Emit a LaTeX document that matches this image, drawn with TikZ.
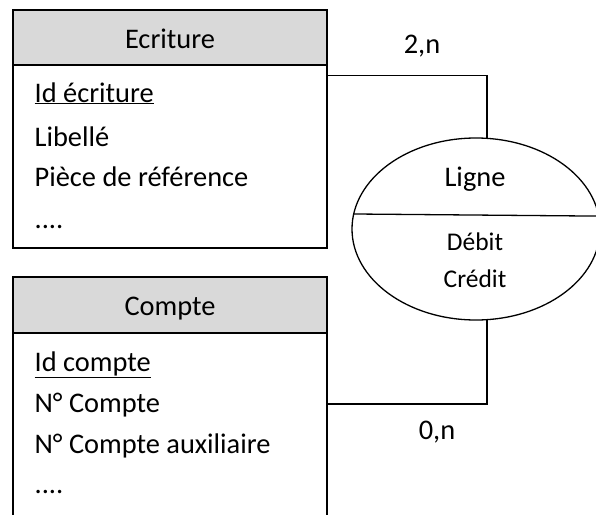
\documentclass[tikz,border=0pt]{standalone}
\usepackage{fontspec}
\setmainfont{Carlito}
\usetikzlibrary{shapes.geometric}
\definecolor{hdrgray}{HTML}{D9D9D9}
\begin{document}
\begin{tikzpicture}[x=1pt,y=-1pt,line width=1.3pt,
  boxpart/.style={draw,rectangle,inner sep=0,outer sep=0,minimum width=314pt},
  hdr/.style={boxpart,fill=hdrgray},
  attr/.style={inner sep=0,anchor=base west,font=\fontsize{28.4}{34}\selectfont},
  title/.style={inner sep=0,anchor=base,font=\fontsize{28.4}{34}\selectfont},
  small/.style={inner sep=0,anchor=base,font=\fontsize{25.5}{30}\selectfont},
  assoc/.style={draw,ellipse,inner sep=0,outer sep=0,minimum width=248pt,minimum height=182pt}]
\useasboundingbox (0,0) rectangle (596,514);
\clip (0,0) rectangle (596,514);
% Ecriture
\node[hdr,minimum height=55pt] (ecrh) at (170,37.5) {};
\node[boxpart,minimum height=183pt] (ecrb) at (170,156.5) {};
\node[title] (ecrt) at (170,48) {Ecriture};
\node[attr] (e1) at (34,102) {\underline{Id écriture}};
\node[attr] (e2) at (34,146) {Libellé};
\node[attr] (e3) at (34,186) {Pièce de référence};
\node[attr] (e4) at (34,228) {....};
% Compte
\node[hdr,minimum height=56pt] (cpth) at (170,305) {};
\node[boxpart,minimum height=207pt] (cptb) at (170,436.5) {};
\node[title] (cptt) at (170,315) {Compte};
\node[attr] (c1) at (34,371) {\underline{Id compte}};
\node[attr] (c2) at (34,412) {N° Compte};
\node[attr] (c3) at (34,453) {N° Compte auxiliaire};
\node[attr] (c4) at (34,493) {....};
% Ligne
\node[assoc] (lig) at (476,229) {};
\draw (lig.173.48) -- (lig.6.52);
\node[title] (ligt) at (475,186) {Ligne};
\node[small] (l1) at (475,250.5) {Débit};
\node[small] (l2) at (475,287) {Crédit};
% connectors
\draw (ecrb.east |- 0,75.7) -| (lig.83);
\draw (cptb.east |- 0,404) -| (lig.-83);
\node[title] (k1) at (422,53.3) {2,n};
\node[title] (k2) at (437,439.3) {0,n};
\end{tikzpicture}
\end{document}
